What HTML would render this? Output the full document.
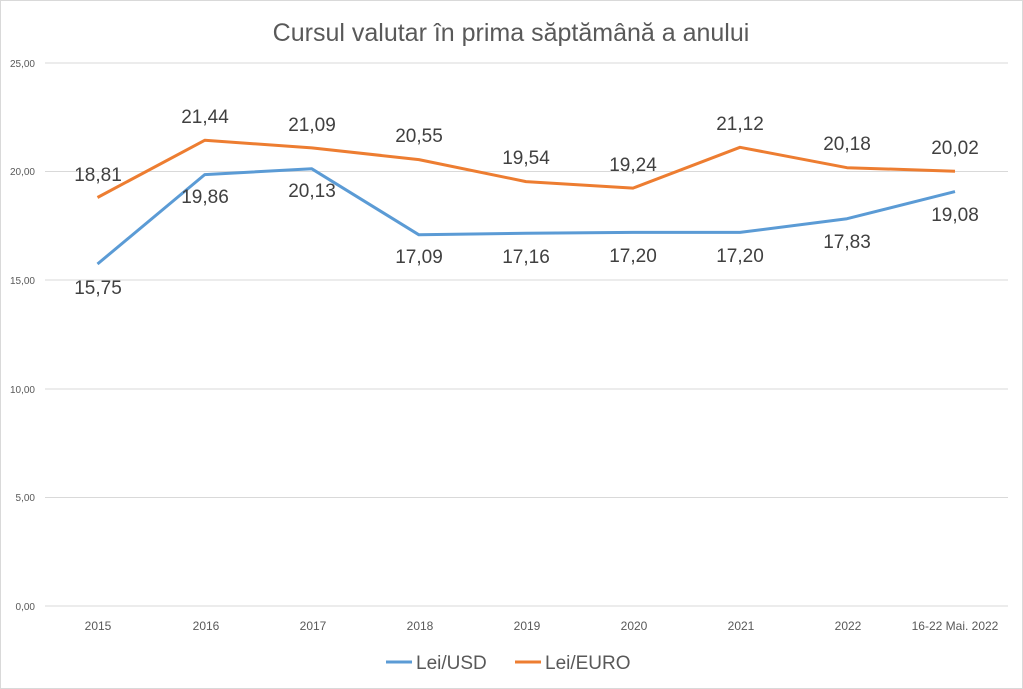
<!DOCTYPE html>
<html><head><meta charset="utf-8"><style>
html,body{margin:0;padding:0;background:#fff;}
svg{display:block;font-family:"Liberation Sans",sans-serif;}
</style></head><body>
<svg width="1023" height="689" viewBox="0 0 1023 689" xmlns="http://www.w3.org/2000/svg">
<rect x="0.5" y="0.5" width="1022" height="688" fill="#fff" stroke="#d9d9d9"/>
<text x="511" y="41" text-anchor="middle" font-size="25" fill="#595959">Cursul valutar în prima săptămână a anului</text>
<g stroke="#d9d9d9" stroke-width="1">
<line x1="45" x2="1008" y1="63" y2="63"/>
<line x1="45" x2="1008" y1="171.5" y2="171.5"/>
<line x1="45" x2="1008" y1="280" y2="280"/>
<line x1="45" x2="1008" y1="389" y2="389"/>
<line x1="45" x2="1008" y1="497.5" y2="497.5"/>
<line x1="45" x2="1008" y1="606" y2="606"/>
</g>
<g font-size="10" fill="#595959" text-anchor="end">
<text x="35" y="67">25,00</text>
<text x="35" y="175">20,00</text>
<text x="35" y="284">15,00</text>
<text x="35" y="393">10,00</text>
<text x="35" y="501">5,00</text>
<text x="35" y="610">0,00</text>
</g>
<g font-size="12" fill="#595959" text-anchor="middle">
<text x="98" y="630">2015</text>
<text x="206" y="630">2016</text>
<text x="313" y="630">2017</text>
<text x="420" y="630">2018</text>
<text x="527" y="630">2019</text>
<text x="634" y="630">2020</text>
<text x="741" y="630">2021</text>
<text x="848" y="630">2022</text>
<text x="955" y="630">16-22 Mai. 2022</text>
</g>
<polyline fill="none" stroke="#5b9bd5" stroke-width="3" stroke-linejoin="round" points="97.5,264 204.7,174.6 311.8,168.8 418.9,234.8 526,233.3 633,232.4 740,232.4 847,218.7 955,191.6"/>
<polyline fill="none" stroke="#ed7d31" stroke-width="3" stroke-linejoin="round" points="97.5,197.5 204.7,140.3 311.8,147.9 418.9,159.6 526,181.6 633,188.1 740,147.3 847,167.7 955,171.2"/>
<g font-size="19" fill="#404040" text-anchor="middle" dominant-baseline="middle">
<text x="98" y="176">18,81</text>
<text x="205" y="118">21,44</text>
<text x="312" y="126">21,09</text>
<text x="419" y="137">20,55</text>
<text x="526" y="159">19,54</text>
<text x="633" y="166">19,24</text>
<text x="740" y="125">21,12</text>
<text x="847" y="145">20,18</text>
<text x="955" y="149">20,02</text>
<text x="98" y="289">15,75</text>
<text x="205" y="198">19,86</text>
<text x="312" y="192">20,13</text>
<text x="419" y="258">17,09</text>
<text x="526" y="258">17,16</text>
<text x="633" y="257">17,20</text>
<text x="740" y="257">17,20</text>
<text x="847" y="243">17,83</text>
<text x="955" y="216">19,08</text>
</g>
<line x1="386" x2="412" y1="662" y2="662" stroke="#5b9bd5" stroke-width="3"/>
<text x="416" y="669" font-size="19" fill="#595959">Lei/USD</text>
<line x1="515" x2="541" y1="662" y2="662" stroke="#ed7d31" stroke-width="3"/>
<text x="545" y="669" font-size="19" fill="#595959">Lei/EURO</text>
</svg>
</body></html>
